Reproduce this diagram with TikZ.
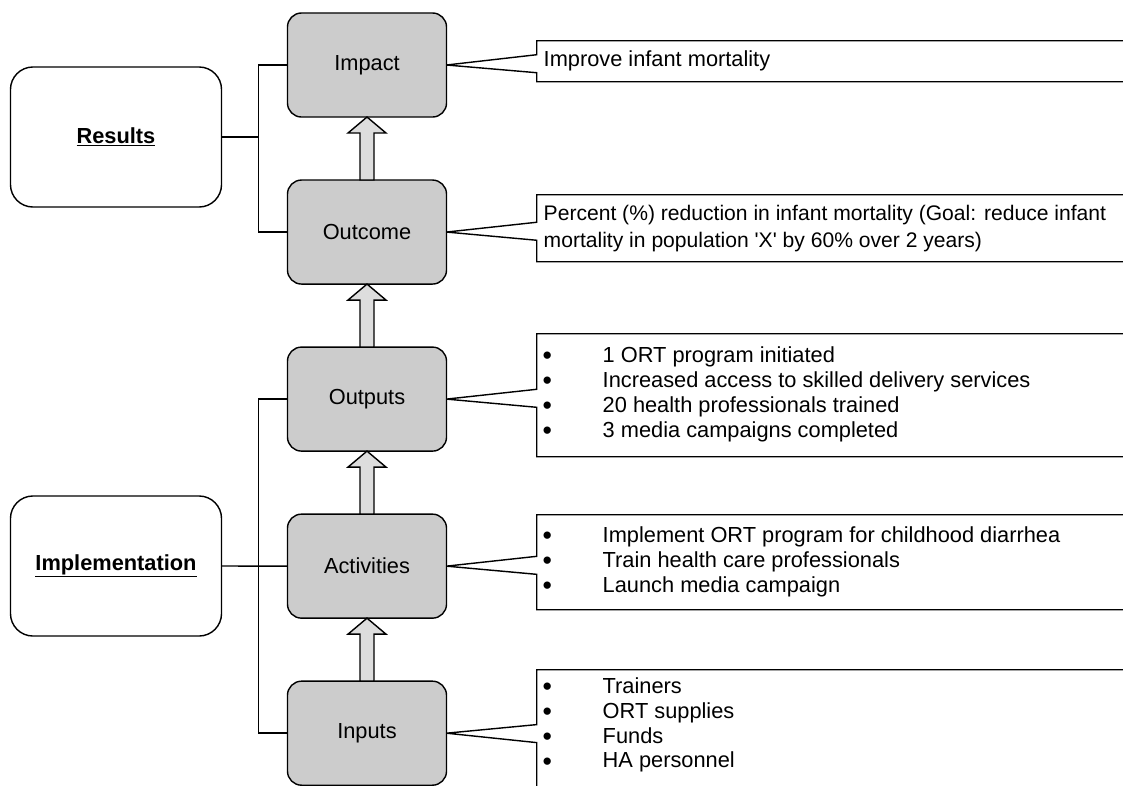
\documentclass[tikz,border=0pt]{standalone}
\usepackage{fontspec}
\setmainfont{Liberation Sans}
\usetikzlibrary{positioning, calc, shapes.callouts}
\definecolor{levelfill}{HTML}{CCCCCC}
\definecolor{arrowfill}{HTML}{DDDDDD}
\newcommand{\dotmark}{\smash{\raisebox{-1.5pt}{\fontsize{19}{17.7}\selectfont •}}}

\begin{document}
\begin{tikzpicture}[
    x=0.025cm, y=-0.025cm,
    line width=1pt,
    % --- block styles ---
    level/.style={
      draw, rectangle, rounded corners=10pt, fill=levelfill,
      minimum width=3.975cm, minimum height=2.6cm, outer sep=0pt,
      align=center, font=\fontsize{15.5}{18}\selectfont},
    group/.style={
      draw, rectangle, rounded corners=16pt,
      minimum width=5.275cm, minimum height=3.5cm, outer sep=0pt,
      font=\fontsize{15.5}{18}\selectfont\bfseries},
    note/.style={
      draw, rectangle callout, fill=white, anchor=north west,
      minimum width=17.5cm, callout pointer width=0.45cm},
    notetext/.style={
      inner sep=0pt, align=left, font=\fontsize{15.5}{17.7}\selectfont},
    link/.style={line width=1pt},
    hollow/.style={draw, fill=arrowfill, line width=1pt, line join=miter},
  ]

  \clip (0,0) rectangle (1123,785);

  % ── Grouping boxes (left) ──
  \node[group] (res)  at (116,137) {\underline{Results}};
  \node[group] (impl) at (116,566) {\underline{Implementation}};

  % ── Logic model levels (middle column) ──
  \node[level] (imp) at (367,65) {Impact};
  \node[level, below=1.575cm of imp]  (outc) {Outcome};
  \node[level, below=1.575cm of outc] (outp) {Outputs};
  \node[level, below=1.575cm of outp] (act)  {Activities};
  \node[level, below=1.575cm of act]  (inp)  {Inputs};

  % ── Hollow arrows between levels ──
  \foreach \lo/\hi in {inp/act, act/outp, outp/outc, outc/imp}
    \draw[hollow] ($(\lo.north)+(-7,0)$) -- ($(\hi.south)+(-7,16)$)
      -- ++(-12,0) -- (\hi.south) -- ($(\hi.south)+(19,16)$)
      -- ++(-12,0) -- ($(\lo.north)+(7,0)$) -- cycle;

  % ── Brackets to the grouping boxes ──
  \draw[link] (res.east) -- ++(37,0) coordinate (rj);
  \draw[link] (imp.west) -| (rj) |- (outc.west);
  \draw[link] (impl.east) -- (act.west);
  \draw[link] (outp.west) -- ++(-29,0) |- (inp.west);

  % ── Callouts (right) ──
  \node[note, minimum height=1.025cm,
        callout absolute pointer={(imp.east)}]  (cImp)  at (536,40)  {};
  \node[note, minimum height=1.675cm,
        callout absolute pointer={(outc.east)}] (cOutc) at (536,194) {};
  \node[note, minimum height=3.075cm,
        callout absolute pointer={(outp.east)}] (cOutp) at (536,333) {};
  \node[note, minimum height=2.375cm,
        callout absolute pointer={(act.east)}]  (cAct)  at (536,514) {};
  \node[note, minimum height=3.275cm,
        callout absolute pointer={(inp.east)}]  (cInp)  at (536,669) {};

  % ── Callout texts ──
  \node[notetext, right=0.175cm of cImp.west] (tImp)
    {Improve infant mortality};
  \node[notetext, font=\fontsize{15}{19}\selectfont,
        right=0.175cm of cOutc.west] (tOutc)
    {Percent (\%) reduction in infant mortality (Goal: reduce infant\\
     mortality in population \textquotesingle X\textquotesingle\ by 60\% over 2 years)};
  \node[notetext, right=0.15cm of cOutp.west] (tOutp)
    {\begin{tabular}{@{}p{1.5cm}@{}l@{}}
      \dotmark & 1 ORT program initiated\\
      \dotmark & Increased access to skilled delivery services\\
      \dotmark & 20 health professionals trained\\
      \dotmark & 3 media campaigns completed
     \end{tabular}};
  \node[notetext, right=0.15cm of cAct.west] (tAct)
    {\begin{tabular}{@{}p{1.5cm}@{}l@{}}
      \dotmark & Implement ORT program for childhood diarrhea\\
      \dotmark & Train health care professionals\\
      \dotmark & Launch media campaign
     \end{tabular}};
  \node[notetext, right=0.15cm of cInp.west, yshift=0.24cm] (tInp)
    {\begin{tabular}{@{}p{1.5cm}@{}l@{}}
      \dotmark & Trainers\\
      \dotmark & ORT supplies\\
      \dotmark & Funds\\
      \dotmark & HA personnel
     \end{tabular}};

\end{tikzpicture}
\end{document}
